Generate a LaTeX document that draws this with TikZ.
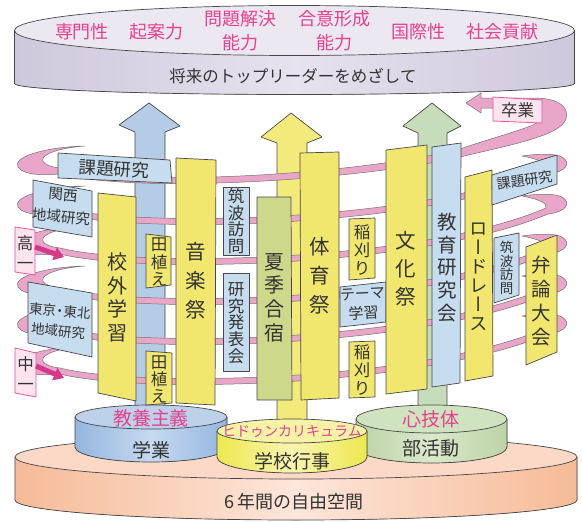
\documentclass[tikz,border=0pt]{standalone}
\usepackage{fontspec}
\setmainfont{Noto Sans CJK JP}
\newfontfamily\vfont[RawFeature={+vert}]{Noto Sans CJK JP}
\usetikzlibrary{arrows.meta}
\definecolor{txt}{HTML}{333333}
\definecolor{pinktxt}{HTML}{E5418F}
\definecolor{pY}{HTML}{F1E76F}
\definecolor{pG}{HTML}{CDD88B}
\definecolor{bB}{HTML}{C6DCEF}
\definecolor{bandP}{HTML}{EAA6C9}
\definecolor{pinkE}{HTML}{E2559A}
\definecolor{pinkF}{HTML}{FCE4EE}
\definecolor{magA}{HTML}{D8388A}
\definecolor{aB}{HTML}{B5CCE6}
\definecolor{aY}{HTML}{F2EB7C}
\definecolor{aG}{HTML}{C5DDBA}
\definecolor{baseS}{HTML}{F6BB98}
\definecolor{baseM}{HTML}{FDE6DA}
\definecolor{baseT}{HTML}{FBD9C6}
\definecolor{topS}{HTML}{CEC8DC}
\definecolor{topM}{HTML}{E6E2EE}
\definecolor{topT}{HTML}{ECE8F2}
\definecolor{cBs}{HTML}{93B6DF}
\definecolor{cBm}{HTML}{C6D9EF}
\definecolor{cBt}{HTML}{BDD2EA}
\definecolor{cYs}{HTML}{EEE84E}
\definecolor{cYm}{HTML}{F8F5B0}
\definecolor{cYt}{HTML}{F6F2A6}
\definecolor{cGs}{HTML}{BDD3A6}
\definecolor{cGm}{HTML}{DAE8CB}
\definecolor{cGt}{HTML}{D0E3C0}
\newcommand\mycyl[9]{%
  \fill[left color=#7,right color=#7,middle color=#8] ({#1-#4},#2) -- ({#1-#4},#3) arc[start angle=180,end angle=0,x radius=#4,y radius=#6] -- ({#1+#4},#2) -- cycle;
  \draw[outl] ({#1-#4},#2) -- ({#1-#4},#3) arc[start angle=180,end angle=0,x radius=#4,y radius=#6] -- ({#1+#4},#2);
  \filldraw[outl,fill=#9] (#1,#2) ellipse[x radius=#4,y radius=#5];}
\begin{document}
\begin{tikzpicture}[x=1pt,y=-1pt,line join=round,
  outl/.style={draw=black!72,line width=0.7pt},
  ylw/.style={outl,fill=pY},
  blu/.style={outl,fill=bB},
  grn/.style={outl,fill=pG},
  band/.style={draw=black!55,line width=0.5pt,fill=bandP},
  lbl/.style={text=txt,align=center,inner sep=0pt},
  ptx/.style={text=pinktxt,align=center,inner sep=0pt},
  pbox/.style={draw=pinkE,line width=0.8pt,fill=pinkF},
  marrow/.style={draw=magA,line width=5pt,-{Triangle[length=10pt,width=13pt]}},
  fs/.style 2 args={font=\fontsize{#1}{#2}\selectfont},
  vfs/.style 2 args={font=\vfont\fontsize{#1}{#2}\selectfont}]
\useasboundingbox (0,0) rectangle (582,522);
% base cylinder
\mycyl{296}{457}{500}{281}{22}{20}{baseS}{baseM}{baseT}
\node[lbl,fs={18}{22}] (b1) at (294,502) {6\hspace{3pt}年間の自由空間};
% top cylinder
\mycyl{294.5}{30.5}{83.5}{280}{25}{11}{topS}{topM}{topT}
\node[ptx,fs={18}{24}] (t1) at (82,32) {専門性};
\node[ptx,fs={18}{24}] (t2) at (156,32) {起案力};
\node[ptx,fs={18}{24}] (t3) at (240,31) {問題解決\\能力};
\node[ptx,fs={18}{24}] (t4) at (334,31) {合意形成\\能力};
\node[ptx,fs={18}{24}] (t5) at (418,32) {国際性};
\node[ptx,fs={18}{24}] (t6) at (502,32) {社会貢献};
\node[lbl,fs={16.5}{20}] (t7) at (293,76) {将来のトップリーダーをめざして};
% big arrows
\filldraw[outl,fill=aB] (149,103) -- (180,126) -- (165,132) -- (165,425) -- (135,425) -- (135,132) -- (119,125) -- cycle;
\filldraw[outl,fill=aY] (291,113) -- (322,137) -- (307,143) -- (307,435) -- (277,435) -- (277,143) -- (261,137) -- cycle;
\filldraw[outl,fill=aG] (432,103) -- (461,126) -- (447,133) -- (447,425) -- (418,425) -- (418,133) -- (403,126) -- cycle;
% small cylinders
\mycyl{151}{417}{447}{76}{12}{15}{cBs}{cBm}{cBt}
\mycyl{431.5}{419}{447}{75.5}{14}{16}{cGs}{cGm}{cGt}
\mycyl{292}{431}{457}{75}{12}{16}{cYs}{cYm}{cYt}
\node[ptx,fs={19}{22}] (c1a) at (151,418) {教養主義};
\node[lbl,fs={19}{22}] (c1b) at (151,450) {学業};
\node[ptx,fs={19}{22}] (c3a) at (431,419) {心技体};
\node[lbl,fs={19}{22}] (c3b) at (431,448) {部活動};
\node[ptx,fs={14}{16}] (c2a) at (292,431) {ヒドゥンカリキュラム};
\node[lbl,fs={19}{22}] (c2b) at (292,461) {学校行事};
% spiral band
\foreach \c in {363,323,283,243,203}{
\filldraw[band] (85,\c-17) .. controls (45,\c-16) and (12,\c-6) .. (18,\c+4) .. controls (24,\c+13) and (45,\c+12) .. (60,\c+11) .. controls (140,\c+31) and (420,\c+25) .. (548,\c-29) .. controls (566,\c-31) and (572,\c-40) .. (562,\c-46) .. controls (555,\c-50) and (535,\c-49) .. (522,\c-47) .. controls (538,\c-44) and (548,\c-40) .. (546,\c-35) .. controls (420,\c+19) and (140,\c+25) .. (60,\c+5) .. controls (42,\c+3) and (38,\c-4) .. (48,\c-9) .. controls (58,\c-14) and (72,\c-16) .. (85,\c-17) -- cycle;}
\filldraw[band] (85,146) .. controls (45,147) and (12,157) .. (18,167) .. controls (24,176) and (45,175) .. (60,174) .. controls (140,194) and (360,180) .. (460,157) .. controls (510,145) and (560,136) .. (566,119) .. controls (570,106) and (556,98) .. (535,98) -- (481,98) -- (481,93) -- (466,103) -- (481,113) -- (481,108) -- (528,109) .. controls (544,111) and (546,121) .. (528,127) .. controls (505,135) and (480,142) .. (460,149) .. controls (360,174) and (140,188) .. (60,168) .. controls (42,166) and (38,159) .. (48,154) .. controls (58,149) and (72,147) .. (85,146) -- cycle;
% left boxes
\filldraw[blu] (58,153) -- (170,160) -- (172,183) -- (58,178) -- cycle;
\node[lbl,fs={17.5}{20},rotate=-3] (k1) at (114,169) {課題研究};
\filldraw[blu] (33,180) -- (92,191) -- (92,237) -- (33,227) -- cycle;
\node[lbl,fs={14.5}{22},rotate=-5] (k2) at (62,206) {関西\\地域研究};
\filldraw[blu] (28,282) -- (92,293) -- (92,357) -- (28,343) -- cycle;
\node[lbl,fs={13.5}{20},rotate=-5] (k3) at (59,321) {東京\kern-3pt・\kern-3pt東北\\地域研究};
% pillars
\filldraw[ylw] (98,193) -- (136,197) -- (136,401) -- (98,393) -- cycle;
\node[lbl,fs={20}{23.7}] (p1) at (117,297.5) {校\\外\\学\\習};
\filldraw[ylw] (146,234) -- (171,237) -- (171,285) -- (146,288) -- cycle;
\node[lbl,fs={16.5}{17.5}] (p2) at (159,262) {田\\植\\え};
\filldraw[ylw] (146,351) -- (172,353) -- (172,403) -- (146,405) -- cycle;
\node[lbl,fs={16.5}{17}] (p3) at (159,379) {田\\植\\え};
\filldraw[ylw] (176,158) -- (216,160) -- (215,405) -- (176,403) -- cycle;
\node[lbl,fs={20.5}{29}] (p4) at (196,281) {音\\楽\\祭};
\filldraw[blu] (223,187) rectangle (249,255);
\node[lbl,fs={16.5}{16.5}] (p5) at (236,221) {筑\\波\\訪\\問};
\filldraw[blu] (223,273) rectangle (249,371);
\node[lbl,fs={16.5}{16.75}] (p6) at (236,323) {研\\究\\発\\表\\会};
\filldraw[grn] (257,197) -- (291,197) -- (292,400) -- (257,400) -- cycle;
\node[lbl,fs={20}{23.7}] (p7) at (274,297.5) {夏\\季\\合\\宿};
\filldraw[ylw] (300,153) -- (339,152) -- (339,398) -- (301,400) -- cycle;
\node[lbl,fs={20.5}{29}] (p8) at (320,276) {体\\育\\祭};
\filldraw[ylw] (349,219) -- (375,218) -- (375,278) -- (349,280) -- cycle;
\node[lbl,fs={16.5}{18}] (p9) at (362,250) {稲\\刈\\り};
\filldraw[blu] (340,287) -- (386,282) -- (386,322) -- (340,327) -- cycle;
\node[lbl,fs={15}{20},rotate=3] (p10) at (363,304) {テーマ\\学習};
\filldraw[ylw] (349,342) -- (375,341) -- (375,397) -- (349,398) -- cycle;
\node[lbl,fs={16.5}{18}] (p11) at (362,370) {稲\\刈\\り};
\filldraw[ylw] (386,150) -- (427,145) -- (427,389) -- (386,394) -- cycle;
\node[lbl,fs={20.5}{28}] (p12) at (406,269) {文\\化\\祭};
\filldraw[blu] (432,147) -- (461,143) -- (460,383) -- (432,387) -- cycle;
\node[lbl,fs={19.5}{22.75}] (p13) at (447,267.5) {教\\育\\研\\究\\会};
\filldraw[ylw] (465,177) -- (492,170) -- (493,376) -- (465,381) -- cycle;
\node[lbl,vfs={18.5}{19}] (p14) at (478.5,277) {ロ\\ー\\ド\\レ\\ー\\ス};
\filldraw[blu] (492,175) -- (557,155) -- (557,184) -- (492,205) -- cycle;
\node[lbl,fs={14}{18},rotate=9] (p15) at (524.5,180) {課題研究};
\filldraw[blu] (494,238) -- (519,233) -- (519,295) -- (494,303) -- cycle;
\node[lbl,fs={13.5}{13.5}] (p16) at (506.5,268) {筑\\波\\訪\\問};
\filldraw[ylw] (526,247) -- (557,235) -- (557,352) -- (526,365) -- cycle;
\node[lbl,fs={19.5}{24}] (p17) at (541.5,301) {弁\\論\\大\\会};
% grade labels
\filldraw[pbox] (15,227) -- (35,230) -- (35,275) -- (15,272) -- cycle;
\node[lbl,fs={16.5}{20}] (g1) at (25,253) {高\\一};
\filldraw[pbox] (15,348) -- (36,353) -- (36,397) -- (15,393) -- cycle;
\node[lbl,fs={16.5}{20}] (g2) at (25.5,374) {中\\一};
\coordinate (g1s) at (35,247);
\coordinate (g1e) at (64,257);
\draw[marrow] (g1s) -- (g1e);
\coordinate (g2s) at (36,366);
\coordinate (g2e) at (64,378);
\draw[marrow] (g2s) -- (g2e);
\filldraw[pbox] (493,97) -- (542,100) -- (542,123) -- (493,121) -- cycle;
\node[lbl,fs={16.5}{18}] (g3) at (517.5,110) {卒業};
\end{tikzpicture}
\end{document}
